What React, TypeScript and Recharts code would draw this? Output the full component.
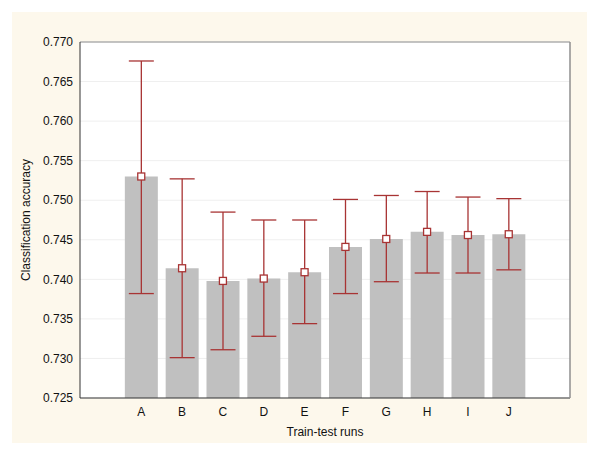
import React from 'react';
import {
  ComposedChart,
  Bar,
  Line,
  ErrorBar,
  XAxis,
  YAxis,
  CartesianGrid,
  Label,
} from 'recharts';

// categories (blank slots at both ends, as in the original plot)
const runs = ['', 'A', 'B', 'C', 'D', 'E', 'F', 'G', 'H', 'I', 'J', ''];
const means = [null, 0.753, 0.7414, 0.7398, 0.7401, 0.7409, 0.7441, 0.7451, 0.746, 0.7456, 0.7457, null];
const lower = [null, 0.7382, 0.7301, 0.7311, 0.7328, 0.7344, 0.7382, 0.7397, 0.7408, 0.7408, 0.7412, null];
const upper = [null, 0.7676, 0.7527, 0.7485, 0.7475, 0.7475, 0.7501, 0.7506, 0.7511, 0.7504, 0.7502, null];
const yTicks = [0.725, 0.73, 0.735, 0.74, 0.745, 0.75, 0.755, 0.76, 0.765, 0.77];

const data = runs.map((run, i) => ({
  run,
  mean: means[i],
  err: means[i] == null ? null : [means[i]! - lower[i]!, upper[i]! - means[i]!],
}));

const FONT = '"Liberation Sans", Arial, Helvetica, sans-serif';
const ERR = '#a83434';

const SquareDot = (props: any) => {
  const { cx, cy, value } = props;
  if (value == null || cx == null || cy == null) return null;
  return <rect x={cx - 3.5} y={cy - 3.5} width={7} height={7} fill="#ffffff" stroke={ERR} strokeWidth={1.3} />;
};

export default function App() {
  return (
    <div style={{ position: 'absolute', left: 0, top: 0, width: 600, height: 456, background: '#ffffff' }}>
      <div style={{ position: 'absolute', left: 12, top: 12, width: 575, height: 431, background: '#fdf8ec' }} />
      <div style={{ position: 'absolute', left: 0, top: 0 }}>
        <ComposedChart
          width={600}
          height={456}
          data={data}
          margin={{ top: 42, right: 30, left: 20, bottom: 18 }}
          style={{ fontFamily: FONT }}
        >
          <CartesianGrid vertical={false} stroke="#efefef" fill="#ffffff" />
          <XAxis
            dataKey="run"
            height={40}
            tickLine={false}
            tickSize={0}
            tickMargin={9}
            stroke="#333333"
            tick={{ fill: '#111111', fontSize: 12 }}
            interval={0}
          >
            <Label value="Train-test runs" position="insideBottom" offset={2} style={{ fill: '#111111', fontSize: 12 }} />
          </XAxis>
          <XAxis xAxisId="bt" dataKey="run" orientation="bottom" mirror tick={false} axisLine={false} tickSize={3} stroke="#333333" interval={0} />
          <XAxis xAxisId="top" dataKey="run" orientation="top" mirror tick={false} tickSize={3} stroke="#8f8f8f" interval={0} />
          <YAxis
            type="number"
            domain={[0.725, 0.77]}
            ticks={yTicks}
            allowDataOverflow
            width={60}
            tickLine={false}
            tickSize={0}
            tickMargin={7}
            stroke="#333333"
            tick={{ fill: '#111111', fontSize: 12 }}
            tickFormatter={(v: number) => v.toFixed(3)}
            interval={0}
          >
            <Label
              value="Classification accuracy"
              angle={-90}
              position="insideLeft"
              offset={6}
              style={{ fill: '#111111', fontSize: 12, textAnchor: 'middle' }}
            />
          </YAxis>
          <YAxis
            yAxisId="right"
            orientation="right"
            mirror
            type="number"
            domain={[0.725, 0.77]}
            ticks={yTicks}
            allowDataOverflow
            tick={false}
            tickSize={3}
            stroke="#8f8f8f"
            strokeWidth={1.5}
            interval={0}
          />
          <Bar dataKey="mean" fill="#c0c0c0" barSize={33} isAnimationActive={false}>
            <ErrorBar dataKey="err" width={12.5} stroke={ERR} strokeWidth={1.3} direction="y" isAnimationActive={false} />
          </Bar>
          <Line
            dataKey="mean"
            stroke="none"
            dot={<SquareDot />}
            activeDot={false}
            connectNulls={false}
            isAnimationActive={false}
          />
        </ComposedChart>
      </div>
    </div>
  );
}
